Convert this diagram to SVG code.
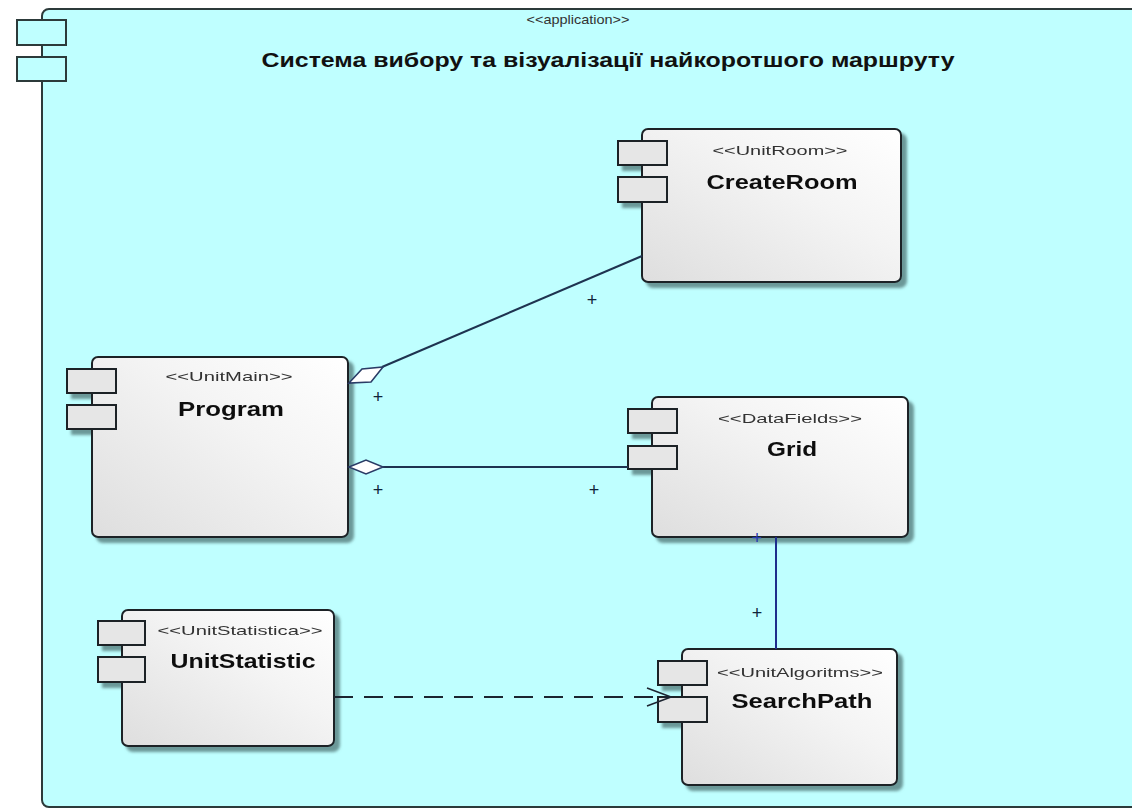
<svg xmlns="http://www.w3.org/2000/svg" width="1132" height="809" viewBox="0 0 1132 809">
  <defs>
    <linearGradient id="boxFill" x1="0" y1="1" x2="1" y2="0">
      <stop offset="0" stop-color="#dedede"/>
      <stop offset="0.6" stop-color="#f4f4f4"/>
      <stop offset="1" stop-color="#ffffff"/>
    </linearGradient>
    <filter id="shadow" x="-10%" y="-10%" width="130%" height="130%">
      <feDropShadow dx="5" dy="5" stdDeviation="1.6" flood-color="#4f7475" flood-opacity="0.75"/>
    </filter>
    <marker id="openArrow" markerWidth="30" markerHeight="22" refX="26" refY="11" orient="auto" markerUnits="userSpaceOnUse">
      <path d="M2,2 L26,11 L2,20" fill="none" stroke="#1c2430" stroke-width="1.6"/>
    </marker>
  </defs>
  <style>
    .frame { fill: #bfffff; stroke: #2c3a3a; stroke-width: 2; }
    .port-frame { fill: #bfffff; stroke: #2c3a3a; stroke-width: 2; }
    .box { fill: url(#boxFill); stroke: #1e2428; stroke-width: 2; }
    .port { fill: #e6e6e6; stroke: #1e2428; stroke-width: 2; }
    .stereo { font-family: "Liberation Sans", Arial, sans-serif; font-size: 13px; fill: #333; text-anchor: middle; }
    .name { font-family: "Liberation Sans", Arial, sans-serif; font-size: 21px; font-weight: bold; fill: #111; text-anchor: middle; }
    .plus { font-family: "Liberation Sans", Arial, sans-serif; font-size: 18px; fill: #10243a; text-anchor: middle; }
    .conn { fill: none; stroke: #1e3350; stroke-width: 2; }
    .diamond { fill: #ffffff; stroke: #2a3c66; stroke-width: 1.6; }
  </style>

  <!-- page background -->
  <rect x="0" y="0" width="1132" height="809" fill="#ffffff"/>

  <!-- application container -->
  <g id="application">
    <rect class="frame" x="42" y="9" width="1120" height="798" rx="7"/>
    <rect class="port-frame" x="17" y="20" width="49" height="25"/>
    <rect class="port-frame" x="17" y="57" width="49" height="24"/>
    <text class="stereo" x="578" y="24" textLength="103" lengthAdjust="spacingAndGlyphs">&lt;&lt;application&gt;&gt;</text>
    <text x="608" y="67" font-family="Liberation Sans, Arial, sans-serif" font-size="20" font-weight="bold" fill="#111" text-anchor="middle" textLength="693" lengthAdjust="spacingAndGlyphs">Система вибору та візуалізації найкоротшого маршруту</text>
  </g>

  <!-- CreateRoom component -->
  <g id="createroom" filter="url(#shadow)">
    <rect class="box" x="642" y="129" width="259" height="153" rx="6"/>
    <rect class="port" x="618" y="141" width="49" height="24"/>
    <rect class="port" x="618" y="177" width="49" height="25"/>
    <text class="stereo" x="780" y="155" textLength="135" lengthAdjust="spacingAndGlyphs">&lt;&lt;UnitRoom&gt;&gt;</text>
    <text class="name" x="782" y="189" textLength="151" lengthAdjust="spacingAndGlyphs">CreateRoom</text>
  </g>

  <!-- Program component -->
  <g id="program" filter="url(#shadow)">
    <rect class="box" x="92" y="357" width="256" height="180" rx="6"/>
    <rect class="port" x="67" y="369" width="49" height="24"/>
    <rect class="port" x="67" y="405" width="49" height="24"/>
    <text class="stereo" x="229" y="381" textLength="127" lengthAdjust="spacingAndGlyphs">&lt;&lt;UnitMain&gt;&gt;</text>
    <text class="name" x="231" y="416" textLength="106" lengthAdjust="spacingAndGlyphs">Program</text>
  </g>

  <!-- Grid component -->
  <g id="grid" filter="url(#shadow)">
    <rect class="box" x="652" y="397" width="256" height="140" rx="6"/>
    <rect class="port" x="628" y="409" width="49" height="24"/>
    <rect class="port" x="628" y="446" width="49" height="23"/>
    <text class="stereo" x="790" y="423" textLength="144" lengthAdjust="spacingAndGlyphs">&lt;&lt;DataFields&gt;&gt;</text>
    <text class="name" x="792" y="456" textLength="50" lengthAdjust="spacingAndGlyphs">Grid</text>
  </g>

  <!-- UnitStatistic component -->
  <g id="unitstatistic" filter="url(#shadow)">
    <rect class="box" x="122" y="610" width="212" height="136" rx="6"/>
    <rect class="port" x="98" y="621" width="47" height="24"/>
    <rect class="port" x="98" y="657" width="47" height="25"/>
    <text class="stereo" x="240" y="635" textLength="165" lengthAdjust="spacingAndGlyphs">&lt;&lt;UnitStatistica&gt;&gt;</text>
    <text class="name" x="243" y="668" textLength="145" lengthAdjust="spacingAndGlyphs">UnitStatistic</text>
  </g>

  <!-- SearchPath component -->
  <g id="searchpath" filter="url(#shadow)">
    <rect class="box" x="682" y="649" width="215" height="136" rx="6"/>
    <rect class="port" x="658" y="661" width="49" height="24"/>
    <rect class="port" x="658" y="697" width="49" height="25"/>
    <text class="stereo" x="800" y="677" textLength="166" lengthAdjust="spacingAndGlyphs">&lt;&lt;UnitAlgoritms&gt;&gt;</text>
    <text class="name" x="802" y="708" textLength="141" lengthAdjust="spacingAndGlyphs">SearchPath</text>
  </g>

  <!-- connectors -->
  <g id="connectors">
    <!-- Program aggregates CreateRoom -->
    <line class="conn" x1="382" y1="367" x2="642" y2="256"/>
    <polygon class="diamond" points="349,383 362,369 383,367 371,382"/>
    <text class="plus" x="592" y="306">+</text>
    <text class="plus" x="378" y="403">+</text>

    <!-- Program aggregates Grid -->
    <line class="conn" x1="383" y1="467" x2="628" y2="467"/>
    <polygon class="diamond" points="349,467 366,460 383,467 366,474"/>
    <text class="plus" x="378" y="496">+</text>
    <text class="plus" x="594" y="496">+</text>

    <!-- Grid to SearchPath -->
    <line x1="776" y1="537" x2="776" y2="649" stroke="#1e2e8c" stroke-width="2"/>
    <text class="plus" x="757" y="544" style="fill:#2438b0">+</text>
    <text class="plus" x="757" y="619">+</text>

    <!-- UnitStatistic depends on SearchPath -->
    <line x1="334" y1="697" x2="671" y2="697" stroke="#1c2430" stroke-width="2" stroke-dasharray="19,11" marker-end="url(#openArrow)"/>
  </g>
</svg>
